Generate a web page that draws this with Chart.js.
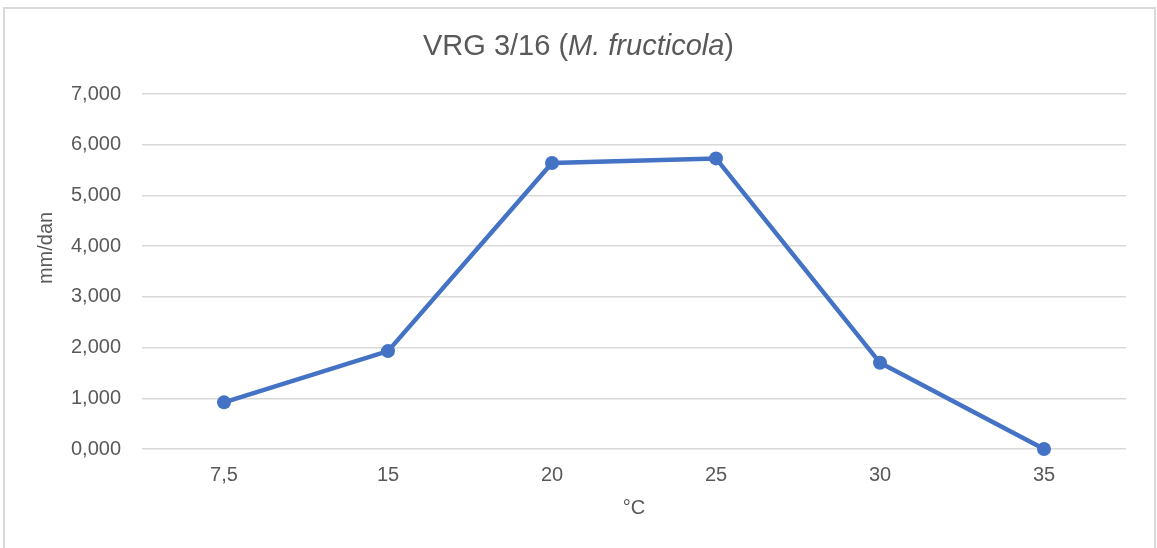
<!DOCTYPE html>
<html>
<head>
<meta charset="utf-8">
<script src="https://cdn.jsdelivr.net/npm/chart.js@4.4.1/dist/chart.umd.min.js"></script>
<style>
  html, body { margin: 0; padding: 0; background: #fff; }
  body { width: 1157px; height: 548px; position: relative; overflow: hidden; }
  #frame {
    position: absolute; left: 3px; top: 7px;
    width: 1149px; height: 560px;
    border: 2px solid #d9d9d9;
  }
  #chart { position: absolute; left: 0; top: 0; }
</style>
</head>
<body>
<div id="frame"></div>
<canvas id="chart" width="1157" height="548"></canvas>
<script>
// growth rate per temperature
const temps = ["7,5", "15", "20", "25", "30", "35"];
const growth = [0.92, 1.93, 5.64, 5.73, 1.70, 0];
const yTicks = [0, 1, 2, 3, 4, 5, 6, 7];

const titleMain = "VRG 3/16 (";
const titleItalic = "M. fructicola";
const titleEnd = ")";
const yTitle = "mm/dan";
const xTitle = "°C";

const textColor = "#595959";
const lineColor = "#4472C4";
const FONT = "'Liberation Sans', Arial, sans-serif";

// title has an italic species name, so it is drawn piece by piece
const labelsPlugin = {
  id: "labels",
  afterDraw(chart) {
    const ctx = chart.ctx;
    ctx.save();
    ctx.fillStyle = textColor;
    ctx.textBaseline = "alphabetic";
    ctx.textAlign = "left";
    const normal = "29px " + FONT;
    const italic = "italic 29px " + FONT;
    ctx.font = normal;
    const w1 = ctx.measureText(titleMain).width;
    const w3 = ctx.measureText(titleEnd).width;
    ctx.font = italic;
    const w2 = ctx.measureText(titleItalic).width;
    let x = chart.width / 2 - (w1 + w2 + w3) / 2;
    const y = 55;
    ctx.font = normal;
    ctx.fillText(titleMain, x, y);
    x += w1;
    ctx.font = italic;
    ctx.fillText(titleItalic, x, y);
    x += w2;
    ctx.font = normal;
    ctx.fillText(titleEnd, x, y);

    // y axis title
    ctx.translate(46, 248);
    ctx.rotate(-Math.PI / 2);
    ctx.font = "20px " + FONT;
    ctx.textAlign = "center";
    ctx.textBaseline = "middle";
    ctx.fillText(yTitle, 0, 0);
    ctx.restore();
  }
};

new Chart(document.getElementById("chart"), {
  type: "line",
  data: {
    labels: temps,
    datasets: [{
      data: growth,
      borderColor: lineColor,
      backgroundColor: lineColor,
      borderWidth: 4.5,
      tension: 0,
      clip: false,
      pointRadius: 7,
      pointHoverRadius: 7,
      pointBorderWidth: 0,
      pointBackgroundColor: lineColor
    }]
  },
  options: {
    responsive: false,
    animation: false,
    layout: { padding: { top: 94, right: 31, left: 0, bottom: 19 } },
    plugins: {
      legend: { display: false },
      title: { display: false },
      tooltip: { enabled: false }
    },
    scales: {
      x: {
        offset: true,
        grid: { display: false },
        border: { display: false },
        ticks: {
          color: textColor,
          padding: 6,
          font: { family: FONT, size: 20 }
        },
        title: {
          display: true,
          text: xTitle,
          color: textColor,
          font: { family: FONT, size: 20 },
          padding: { top: 0, bottom: 9 }
        },
        afterFit(scale) { scale.height = 80; }
      },
      y: {
        min: 0,
        max: 7,
        grid: { color: "#d9d9d9", lineWidth: 1.5, drawTicks: false },
        border: { display: false },
        afterBuildTicks(scale) { scale.ticks = yTicks.map(v => ({ value: v })); },
        ticks: {
          color: textColor,
          padding: 21,
          font: { family: FONT, size: 20 },
          callback: v => v.toFixed(3).replace(".", ",")
        },
        afterFit(scale) { scale.width = 142; }
      }
    }
  },
  plugins: [labelsPlugin]
});
</script>
</body>
</html>
